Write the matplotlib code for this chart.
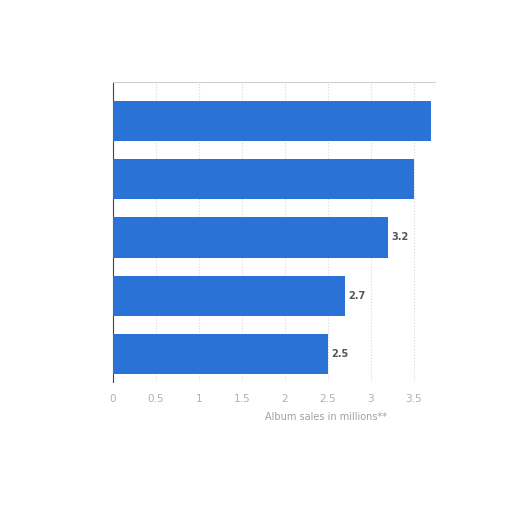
import matplotlib.pyplot as plt

# album sales (millions), top to bottom
categories = ["A", "B", "C", "D", "E"]
sales = [3.7, 3.5, 3.2, 2.7, 2.5]
shown_labels = [None, None, "3.2", "2.7", "2.5"]
x_ticks = [0, 0.5, 1, 1.5, 2, 2.5, 3, 3.5]
x_tick_labels = ["0", "0.5", "1", "1.5", "2", "2.5", "3", "3.5"]

fig = plt.figure(figsize=(5.12, 5.12), dpi=100)
ax = fig.add_axes([0.2207, 0.254, 0.629, 0.586])

pos = list(range(len(categories)))
ax.barh(pos, sales, height=0.69, color="#2a72d6", zorder=3)

for p, v, lab in zip(pos, sales, shown_labels):
    if lab:
        ax.text(v + 0.04, p, lab, va="center", ha="left", fontsize=7,
                fontweight="bold", color="#555555")

ax.set_xlim(0, 3.75)
ax.set_ylim(4.48, -0.67)
ax.set_xticks(x_ticks)
ax.set_xticklabels(x_tick_labels, fontsize=7.5, color="#b0b0b0")
ax.set_yticks([])
ax.tick_params(axis="x", length=0, pad=9)
ax.grid(axis="x", color="#d8d8d8", linestyle=":", linewidth=0.8, zorder=0)

ax.set_xlabel("Album sales in millions**", fontsize=7, color="#a0a0a0")
ax.xaxis.set_label_coords(0.66, -0.1)

for side in ["right", "bottom"]:
    ax.spines[side].set_visible(False)
ax.spines["top"].set_color("#d0d0d0")
ax.spines["left"].set_color("#444444")

fig.savefig("out.png", dpi=100)
